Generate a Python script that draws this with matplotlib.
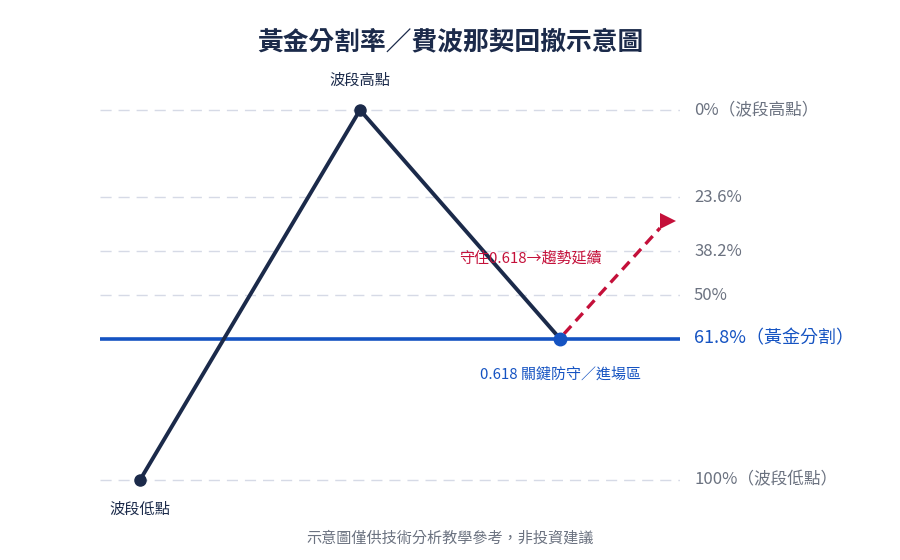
import matplotlib
matplotlib.use('Agg')
import matplotlib.pyplot as plt

plt.rcParams['font.family'] = ['Noto Sans CJK TC', 'DejaVu Sans']

# wave points: time index and retracement level (%)
wave_t = [1, 6.5, 11.5]
wave_lvl = [100, 0, 61.8]
# continuation arrow: shaft start/end and head position
arrow_t = [11.6, 14.0]
arrow_lvl = [60.5, 31.9]
head_t = 14.21
head_lvl = 30.0

fib_levels = [0, 23.6, 38.2, 50, 61.8, 100]
fib_labels = ['0%（波段高點）', '23.6%', '38.2%', '50%', '61.8%（黃金分割）', '100%（波段低點）']

navy = '#1b2a4a'
blue = '#1553c2'
red = '#c4103a'
gray = '#6b7280'

fig = plt.figure(figsize=(9, 5.6), dpi=100)
ax = fig.add_axes([100 / 900, 60 / 560, 580 / 900, 410 / 560])
ax.set_xlim(0, 14.5)
ax.set_ylim(105.4, -5.4)
ax.axis('off')

# grid lines for the levels
for lvl, lab in zip(fib_levels, fib_labels):
    if lvl == 61.8:
        ax.axhline(lvl, color=blue, lw=2.6, zorder=2)
        ax.text(14.85, lvl, lab, color=blue, fontsize=13, fontweight='medium',
                va='center', ha='left', clip_on=False)
    else:
        ax.axhline(lvl, color='#d6dae6', lw=1, ls=(0, (8, 5)), zorder=1)
        ax.text(14.85, lvl, lab, color=gray, fontsize=12, va='center', ha='left',
                clip_on=False)

# wave line
ax.plot(wave_t, wave_lvl, color=navy, lw=2.8, zorder=3, solid_capstyle='round')
ax.plot(wave_t[:2], wave_lvl[:2], 'o', color=navy, ms=8, zorder=4, clip_on=False)
ax.plot(wave_t[2], wave_lvl[2], 'o', color=blue, ms=9, zorder=5)

# continuation arrow (dashed shaft + triangle head)
ax.plot(arrow_t, arrow_lvl, color=red, lw=2.4, ls=(0, (3.2, 2)), zorder=4)
ax.plot(head_t, head_lvl, '>', color=red, ms=12, mew=0, zorder=5, clip_on=False)

# annotations
ax.text(wave_t[1], -8, '波段高點', color=navy, fontsize=11, ha='center', va='center',
        clip_on=False)
ax.text(wave_t[0], 108, '波段低點', color=navy, fontsize=11, ha='center', va='center',
        clip_on=False)
ax.text(10.75, 40, '守住0.618→趨勢延續', color=red, fontsize=10.8, ha='center',
        va='center')
ax.text(11.5, 71.4, '0.618 關鍵防守／進場區', color=blue, fontsize=10.8, ha='center',
        va='center')

fig.text(0.5, 1 - 42 / 560, '黃金分割率／費波那契回撤示意圖', color=navy, fontsize=18.5,
         fontweight='bold', ha='center', va='center')
fig.text(0.5, 1 - 538 / 560, '示意圖僅供技術分析教學參考，非投資建議', color=gray,
         fontsize=10.9, ha='center', va='center')

fig.savefig('out.png', dpi=100)
